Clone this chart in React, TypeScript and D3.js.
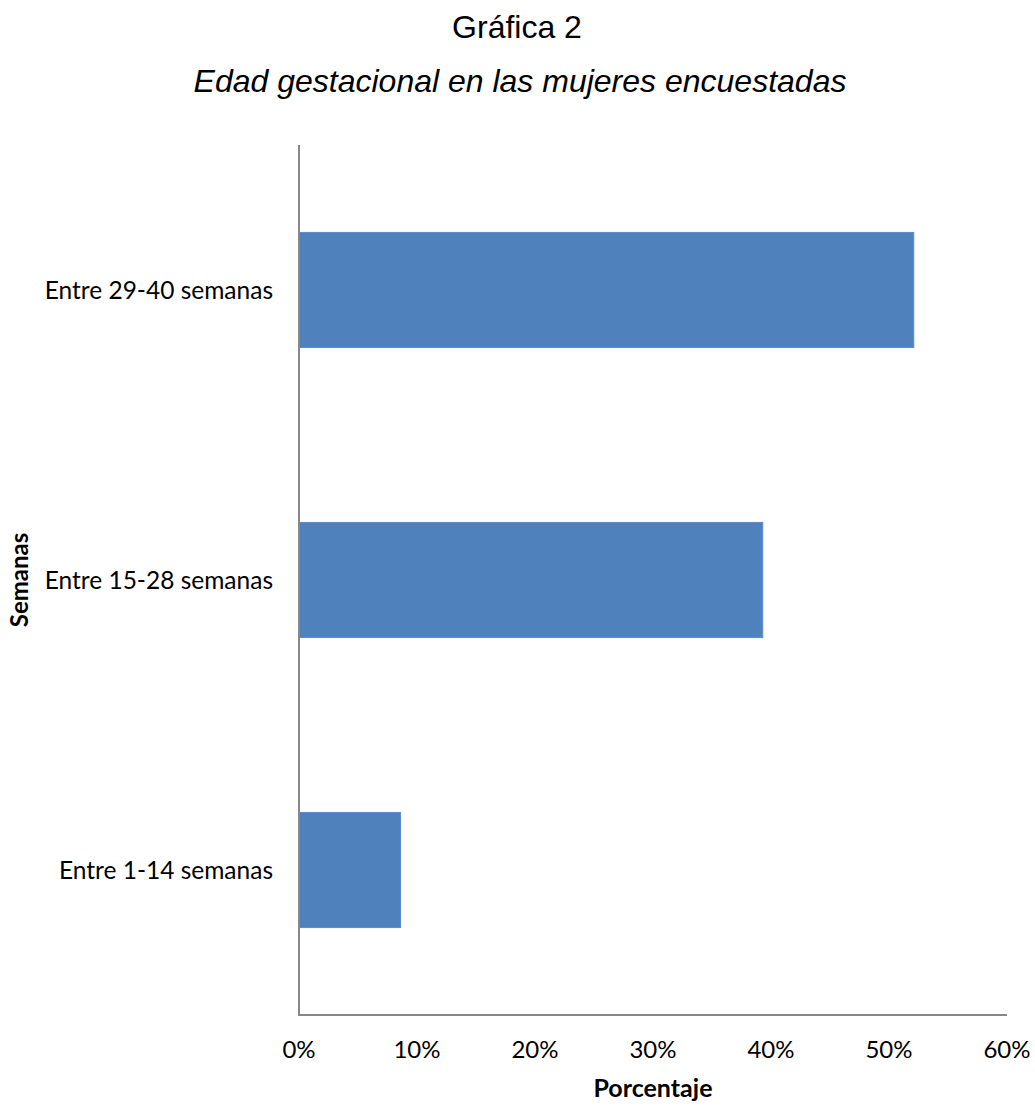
import React from "react";
import * as d3 from "d3";

const categories = ["Entre 29-40 semanas", "Entre 15-28 semanas", "Entre 1-14 semanas"];
const values = [0.521, 0.393, 0.086];
const ticks = [0, 0.1, 0.2, 0.3, 0.4, 0.5, 0.6];
const title = "Gráfica 2";
const subtitle = "Edad gestacional en las mujeres encuestadas";
const xTitle = "Porcentaje";
const yTitle = "Semanas";

const W = 1035;
const H = 1107;
const left = 299;
const right = 1007;
const top = 145;
const bottom = 1015;

export default function App() {
  const x = d3.scaleLinear().domain([0, 0.6]).range([left, right]);
  const y = d3
    .scaleBand<string>()
    .domain(categories)
    .range([top, bottom])
    .paddingInner(0.603)
    .paddingOuter(0.3015);
  const fmt = d3.format(".0%");
  const labelFont = "Lato, 'Open Sans', sans-serif";
  const axisColor = "#878787";

  return (
    <svg
      width={W}
      height={H}
      style={{ position: "absolute", left: 0, top: 0, background: "#fff" }}
    >
      <rect x={0} y={0} width={W} height={H} fill="#fff" />
      <text
        x={517}
        y={38}
        textAnchor="middle"
        fontFamily="'Liberation Sans', Arial, sans-serif"
        fontSize={32}
        fill="#000"
      >
        {title}
      </text>
      <text
        x={520}
        y={92}
        textAnchor="middle"
        fontFamily="'Liberation Sans', Arial, sans-serif"
        fontStyle="italic"
        fontSize={32}
        fill="#000"
      >
        {subtitle}
      </text>

      {categories.map((c, i) => (
        <rect
          key={c}
          x={x(0)}
          y={y(c)}
          width={x(values[i]) - x(0)}
          height={y.bandwidth()}
          fill="#4F81BD"
          stroke="#5B8CC6"
          strokeWidth={1}
        />
      ))}

      <line x1={left} x2={left} y1={top} y2={bottom} stroke={axisColor} strokeWidth={2} />
      <line x1={left - 1} x2={right} y1={bottom} y2={bottom} stroke={axisColor} strokeWidth={2} />

      {categories.map((c) => (
        <text
          key={c}
          x={273}
          y={(y(c) as number) + y.bandwidth() / 2}
          dy="0.35em"
          textAnchor="end"
          fontFamily={labelFont}
          fontSize={24.5}
          fill="#000"
        >
          {c}
        </text>
      ))}

      {ticks.map((t) => (
        <text
          key={t}
          x={x(t)}
          y={1058}
          textAnchor="middle"
          fontFamily={labelFont}
          fontSize={24}
          fill="#000"
        >
          {fmt(t)}
        </text>
      ))}

      <text
        x={653}
        y={1097}
        textAnchor="middle"
        fontFamily={labelFont}
        fontWeight="bold"
        fontSize={25}
        fill="#000"
      >
        {xTitle}
      </text>
      <text
        transform={`translate(28,580) rotate(-90)`}
        textAnchor="middle"
        fontFamily={labelFont}
        fontWeight="bold"
        fontSize={24}
        fill="#000"
      >
        {yTitle}
      </text>
    </svg>
  );
}
